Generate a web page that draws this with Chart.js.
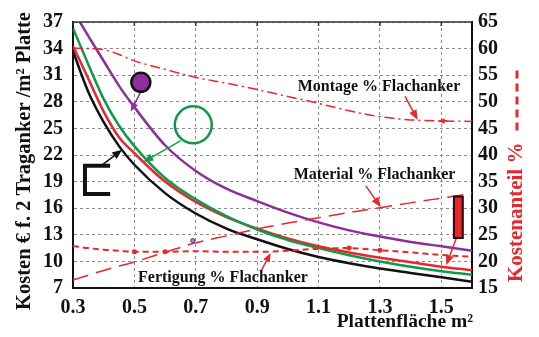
<!DOCTYPE html>
<html>
<head>
<meta charset="utf-8">
<script src="https://cdn.jsdelivr.net/npm/chart.js@4.4.1/dist/chart.umd.min.js"></script>
<style>
html,body{margin:0;padding:0;background:#fff}
#wrap{width:539px;height:337px;position:relative}
</style>
</head>
<body>
<div id="wrap"><canvas id="kostenChart"></canvas></div>
<script>
// Plattenfläche m2
var xs = [0.3,0.35,0.4,0.45,0.5,0.6,0.7,0.8,0.9,1.0,1.1,1.2,1.3,1.4,1.5,1.6];

// Kosten € f. 2 Traganker /m2 Platte (left axis)
var costBlack  = [33.7,29.1,25.7,23.0,20.9,17.7,15.4,13.7,12.5,11.4,10.5,9.8,9.2,8.7,8.2,7.7];
var costRed    = [34.3,30.6,26.9,24.0,22.2,19.0,16.7,15.0,13.7,12.6,11.7,11.0,10.4,9.9,9.4,9.0];
var costGreen  = [36.3,32.2,28.3,25.3,23.0,19.4,17.0,15.1,13.6,12.4,11.5,10.7,10.0,9.4,8.9,8.5];
var costPurple = [38.3,35.4,32.6,29.8,27.4,23.1,20.2,18.2,16.8,15.5,14.4,13.5,12.8,12.2,11.7,11.2];

// Kostenanteil % (right axis)
var pctMontage   = [60.1,60.0,59.8,58.9,57.7,56.1,54.6,53.5,52.3,51.0,49.7,48.3,47.2,46.6,46.4,46.3];
var pctMaterial  = [16.5,17.4,18.3,19.1,19.9,21.7,23.5,24.8,26.1,27.2,28.2,29.2,30.1,31.0,31.9,32.8];
var pctFertigung = [22.9,22.5,22.2,22.0,21.8,21.8,21.9,21.8,21.8,22.0,22.4,22.5,22.1,21.7,21.2,20.9];

var xTicks = [0.3,0.5,0.7,0.9,1.1,1.3,1.5];
var costTicks = [7,10,13,16,19,22,25,28,31,34,37];
var pctTicks = [15,20,25,30,35,40,45,50,55,60,65];

var lblMontage = 'Montage % Flachanker';
var lblMaterial = 'Material % Flachanker';
var lblFertigung = 'Fertigung % Flachanker';
var titleLeft = 'Kosten € f. 2 Traganker /m² Platte';
var titleRight = 'Kostenanteil %';
var titleBottom = 'Plattenfläche m²';

var RED = '#e8262b', GREEN = '#0f9a4a', PURPLE = '#8e2e9a', BLACK = '#111111';
var SERIF = '"Liberation Serif", "DejaVu Serif", serif';

function pts(arr) {
	return arr.map(function(v, i){ return {x: xs[i], y: v}; });
}

function fertigungDots() {
	return xs.map(function(x){ return (x == 0.5 || x == 0.6 || x == 1.2 || x == 1.3) ? 2.5 : 0; });
}

function drawArrow(ctx, x1, y1, x2, y2, color, w, head) {
	var a = Math.atan2(y2 - y1, x2 - x1);
	ctx.save();
	ctx.strokeStyle = color;
	ctx.fillStyle = color;
	ctx.lineWidth = w;
	ctx.setLineDash([]);
	ctx.beginPath();
	ctx.moveTo(x1, y1);
	ctx.lineTo(x2 - Math.cos(a) * head * 0.8, y2 - Math.sin(a) * head * 0.8);
	ctx.stroke();
	ctx.beginPath();
	ctx.moveTo(x2, y2);
	ctx.lineTo(x2 - head * Math.cos(a) + head * 0.4 * Math.sin(a), y2 - head * Math.sin(a) - head * 0.4 * Math.cos(a));
	ctx.lineTo(x2 - head * Math.cos(a) - head * 0.4 * Math.sin(a), y2 - head * Math.sin(a) + head * 0.4 * Math.cos(a));
	ctx.closePath();
	ctx.fill();
	ctx.restore();
}

var annotationPlugin = {
	id: 'annotations',
	afterDatasetsDraw: function(chart) {
		var ctx = chart.ctx;
		var sx = chart.scales.x, sy = chart.scales.y, sp = chart.scales.y1;
		var X = function(v){ return sx.getPixelForValue(v); };
		var Y = function(v){ return sy.getPixelForValue(v); };
		var P = function(v){ return sp.getPixelForValue(v); };

		// purple marker
		drawArrow(ctx, X(0.519), Y(29.0), X(0.488), Y(26.9), PURPLE, 1.5, 9);
		ctx.save();
		ctx.beginPath();
		ctx.arc(X(0.521), Y(30.2), 9.5, 0, Math.PI * 2);
		ctx.fillStyle = PURPLE;
		ctx.fill();
		ctx.lineWidth = 2.5;
		ctx.strokeStyle = BLACK;
		ctx.stroke();
		ctx.restore();

		// green open circle
		ctx.save();
		ctx.beginPath();
		ctx.arc(X(0.692), Y(25.4), 18.5, 0, Math.PI * 2);
		ctx.lineWidth = 2.5;
		ctx.strokeStyle = GREEN;
		ctx.stroke();
		ctx.restore();
		drawArrow(ctx, X(0.65), Y(23.6), X(0.529), Y(21.2), GREEN, 1.5, 10);

		// black bracket
		ctx.save();
		ctx.strokeStyle = BLACK;
		ctx.lineWidth = 4;
		ctx.beginPath();
		ctx.moveTo(X(0.421), Y(20.8));
		ctx.lineTo(X(0.339), Y(20.8));
		ctx.lineTo(X(0.339), Y(17.6));
		ctx.lineTo(X(0.421), Y(17.6));
		ctx.stroke();
		ctx.restore();
		drawArrow(ctx, X(0.392), Y(20.8), X(0.46), Y(22.6), BLACK, 1.5, 10);

		// red bar
		ctx.save();
		ctx.fillStyle = RED;
		ctx.strokeStyle = BLACK;
		ctx.lineWidth = 2;
		ctx.fillRect(X(1.541), P(32.2), X(1.570) - X(1.541), P(24.4) - P(32.2));
		ctx.strokeRect(X(1.541), P(32.2), X(1.570) - X(1.541), P(24.4) - P(32.2));
		ctx.restore();
		drawArrow(ctx, X(1.548), P(24.2), X(1.516), P(19.3), RED, 1.5, 10);

		// text labels with arrows
		ctx.save();
		ctx.font = 'bold 16px ' + SERIF;
		ctx.fillStyle = BLACK;
		ctx.textBaseline = 'middle';
		ctx.textAlign = 'left';
		ctx.fillText(lblMontage, X(1.032), P(52.8));
		ctx.fillText(lblMaterial, X(1.019), P(36.2));
		ctx.fillText(lblFertigung, X(0.512), P(17.0));
		ctx.restore();
		drawArrow(ctx, X(1.382), P(51.0), X(1.423), P(46.6), RED, 1.5, 10);
		drawArrow(ctx, X(1.52), P(46.4), X(1.488), P(46.4), RED, 1.5, 7);
		drawArrow(ctx, X(1.254), P(34.2), X(1.303), P(30.2), RED, 1.5, 10);
		drawArrow(ctx, X(0.914), P(18.3), X(0.944), P(21.6), RED, 1.5, 9);

		// top frame with small ticks
		var ca = chart.chartArea;
		ctx.save();
		ctx.strokeStyle = '#333';
		ctx.lineWidth = 1.5;
		ctx.beginPath();
		ctx.moveTo(ca.left, ca.top);
		ctx.lineTo(ca.right, ca.top);
		xTicks.forEach(function(t){
			ctx.moveTo(X(t), ca.top);
			ctx.lineTo(X(t), ca.top + 4);
		});
		ctx.stroke();
		ctx.restore();
	},
	afterDraw: function(chart) {
		var ctx = chart.ctx;
		var ca = chart.chartArea;

		// left axis title
		ctx.save();
		ctx.translate(25, 161);
		ctx.rotate(-Math.PI / 2);
		ctx.font = 'bold 20.5px ' + SERIF;
		ctx.fillStyle = BLACK;
		ctx.textBaseline = 'middle';
		ctx.textAlign = 'center';
		ctx.fillText(titleLeft, 0, 0);
		ctx.restore();

		// bottom axis title
		ctx.save();
		ctx.font = 'bold 19.5px ' + SERIF;
		ctx.fillStyle = BLACK;
		ctx.textBaseline = 'middle';
		ctx.textAlign = 'right';
		ctx.fillText(titleBottom, ca.right + 1, 322);
		ctx.restore();

		// right axis title: Kostenanteil % followed by dashed line symbol
		ctx.save();
		ctx.translate(517, 282);
		ctx.rotate(-Math.PI / 2);
		ctx.font = 'bold 21px ' + SERIF;
		ctx.fillStyle = RED;
		ctx.textBaseline = 'middle';
		ctx.textAlign = 'left';
		ctx.fillText(titleRight, 0, 0);
		var w = ctx.measureText(titleRight).width;
		ctx.strokeStyle = RED;
		ctx.lineWidth = 3;
		ctx.setLineDash([8, 5]);
		ctx.beginPath();
		ctx.moveTo(w + 12, 0);
		ctx.lineTo(w + 76, 0);
		ctx.stroke();
		ctx.restore();
	}
};

var tickFont = {family: SERIF, size: 20, weight: 'bold'};
var gridOpts = {color: '#8c8c8c', lineWidth: 1, drawTicks: false};

var ctx = document.getElementById('kostenChart').getContext('2d');

var kostenChart = new Chart(ctx, {
	type: 'line',
	data: {
		datasets: [
			{
				label: 'Montage %',
				data: pts(pctMontage),
				yAxisID: 'y1',
				borderColor: RED,
				borderWidth: 1.5,
				borderDash: [10, 4, 2, 4],
				pointRadius: 0,
				cubicInterpolationMode: 'monotone'
			},
			{
				label: 'Material %',
				data: pts(pctMaterial),
				yAxisID: 'y1',
				borderColor: RED,
				borderWidth: 1.5,
				borderDash: [16, 8],
				pointRadius: 0,
				cubicInterpolationMode: 'monotone'
			},
			{
				label: 'Fertigung %',
				data: pts(pctFertigung),
				yAxisID: 'y1',
				borderColor: RED,
				backgroundColor: RED,
				borderWidth: 2,
				borderDash: [6, 4],
				pointRadius: fertigungDots(),
				pointBorderWidth: 0,
				cubicInterpolationMode: 'monotone'
			},
			{
				label: 'Purple',
				data: pts(costPurple),
				yAxisID: 'y',
				borderColor: PURPLE,
				borderWidth: 2.5,
				pointRadius: 0,
				cubicInterpolationMode: 'monotone'
			},
			{
				label: 'Green',
				data: pts(costGreen),
				yAxisID: 'y',
				borderColor: GREEN,
				borderWidth: 2.5,
				pointRadius: 0,
				cubicInterpolationMode: 'monotone'
			},
			{
				label: 'Red',
				data: pts(costRed),
				yAxisID: 'y',
				borderColor: RED,
				borderWidth: 2.5,
				pointRadius: 0,
				cubicInterpolationMode: 'monotone'
			},
			{
				label: 'Black',
				data: pts(costBlack),
				yAxisID: 'y',
				borderColor: BLACK,
				borderWidth: 2.5,
				pointRadius: 0,
				cubicInterpolationMode: 'monotone'
			},
			{
				label: 'dot',
				type: 'scatter',
				data: [{x: 0.69, y: 12.35}],
				yAxisID: 'y',
				borderColor: '#2233aa',
				backgroundColor: '#8899ee',
				pointRadius: 2,
				borderWidth: 1
			}
		]
	},
	options: {
		responsive: true,
		maintainAspectRatio: false,
		animation: false,
		layout: {padding: {top: 17, left: 0, right: 0, bottom: 0}},
		plugins: {
			legend: {display: false},
			tooltip: {enabled: false}
		},
		scales: {
			x: {
				type: 'linear',
				min: 0.3,
				max: 1.6,
				afterBuildTicks: function(s){ s.ticks = xTicks.map(function(v){ return {value: v}; }); },
				afterFit: function(s){ s.height = 49; },
				ticks: {
					font: tickFont,
					color: BLACK,
					padding: 8,
					maxRotation: 0,
					autoSkip: false,
					callback: function(v){ return Number(v).toFixed(1); }
				},
				grid: gridOpts,
				border: {display: true, color: BLACK, width: 2, dash: [3, 3]}
			},
			y: {
				position: 'left',
				min: 7,
				max: 37,
				afterBuildTicks: function(s){ s.ticks = costTicks.map(function(v){ return {value: v}; }); },
				afterFit: function(s){ s.width = 73; },
				ticks: {font: tickFont, color: BLACK, padding: 10, autoSkip: false},
				grid: gridOpts,
				border: {display: true, color: BLACK, width: 2, dash: [3, 3]}
			},
			y1: {
				position: 'right',
				min: 15,
				max: 65,
				afterBuildTicks: function(s){ s.ticks = pctTicks.map(function(v){ return {value: v}; }); },
				afterFit: function(s){ s.width = 67; },
				ticks: {font: tickFont, color: BLACK, padding: 6, autoSkip: false},
				grid: {drawOnChartArea: false, drawTicks: false},
				border: {display: true, color: BLACK, width: 2}
			}
		}
	},
	plugins: [annotationPlugin]
});
</script>
</body>
</html>
